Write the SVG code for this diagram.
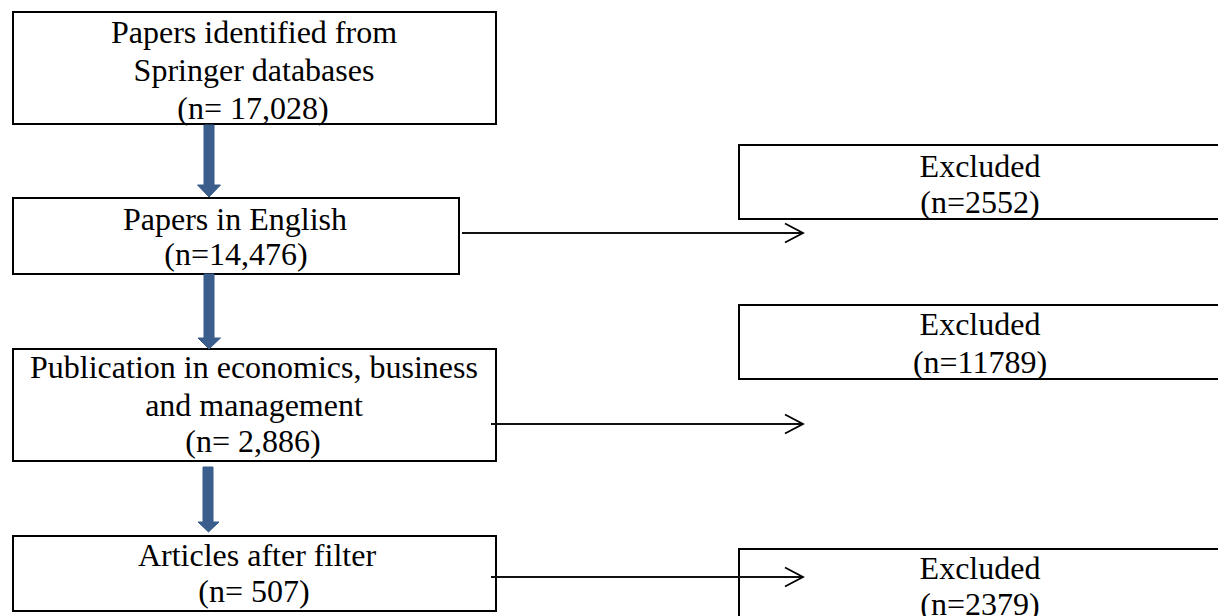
<svg xmlns="http://www.w3.org/2000/svg" width="1218" height="616" viewBox="0 0 1218 616">
<style>
  .box{fill:#fff;stroke:#000;stroke-width:2}
  .t{font-family:"Liberation Serif","Times New Roman",serif;font-size:32px;fill:#000;text-anchor:middle}
  .blue{fill:#3B5E8C;stroke:#385D8A;stroke-width:1}
  .conn{stroke:#111;stroke-width:1.8;fill:none}
  .head{stroke:#000;stroke-width:1.8;fill:none;stroke-linejoin:miter}
</style>
<rect x="0" y="0" width="1218" height="616" fill="#fff"/>
<g id="n1">
  <rect class="box" x="13" y="12" width="483" height="112"/>
  <text class="t" x="254" y="43">Papers identified from</text>
  <text class="t" x="254" y="81">Springer databases</text>
  <text class="t" x="253" y="119">(n= 17,028)</text>
</g>
<g id="n2">
  <rect class="box" x="13" y="198" width="446" height="76"/>
  <text class="t" x="235" y="230">Papers in English</text>
  <text class="t" x="236" y="265">(n=14,476)</text>
</g>
<g id="n3">
  <rect class="box" x="13" y="349" width="483" height="112"/>
  <text class="t" x="254" y="378">Publication in economics, business</text>
  <text class="t" x="254" y="416">and management</text>
  <text class="t" x="253" y="452">(n= 2,886)</text>
</g>
<g id="n4">
  <rect class="box" x="13" y="536" width="483" height="75"/>
  <text class="t" x="257" y="566">Articles after filter</text>
  <text class="t" x="254" y="602">(n= 507)</text>
</g>
<g id="e1">
  <rect class="box" x="739" y="145" width="490" height="74"/>
  <text class="t" x="980" y="177">Excluded</text>
  <text class="t" x="980" y="213">(n=2552)</text>
</g>
<g id="e2">
  <rect class="box" x="739" y="305" width="490" height="74"/>
  <text class="t" x="980" y="335">Excluded</text>
  <text class="t" x="980" y="373">(n=11789)</text>
</g>
<g id="e3">
  <rect class="box" x="739" y="549" width="490" height="80"/>
  <text class="t" x="980" y="579">Excluded</text>
  <text class="t" x="980" y="615">(n=2379)</text>
</g>
<g id="connectors">
  <path class="blue" d="M204,125 H214 V185 H220.5 L209,197 L197.5,185 H204 Z"/>
  <path class="blue" d="M204,274 H214 V338 H220.5 L209,349 L198,338 H204 Z"/>
  <path class="blue" d="M203,467 H213 V522 H219 L208.5,532 L198,522 H203 Z"/>
  <line class="conn" x1="462" y1="233" x2="803" y2="233"/>
  <polyline class="head" points="785,223.5 803,233 785,242.5"/>
  <line class="conn" x1="491" y1="424" x2="803" y2="424"/>
  <polyline class="head" points="785,414.5 803,424 785,433.5"/>
  <line class="conn" x1="491" y1="577" x2="803" y2="577"/>
  <polyline class="head" points="785,567.5 803,577 785,586.5"/>
</g>
</svg>
